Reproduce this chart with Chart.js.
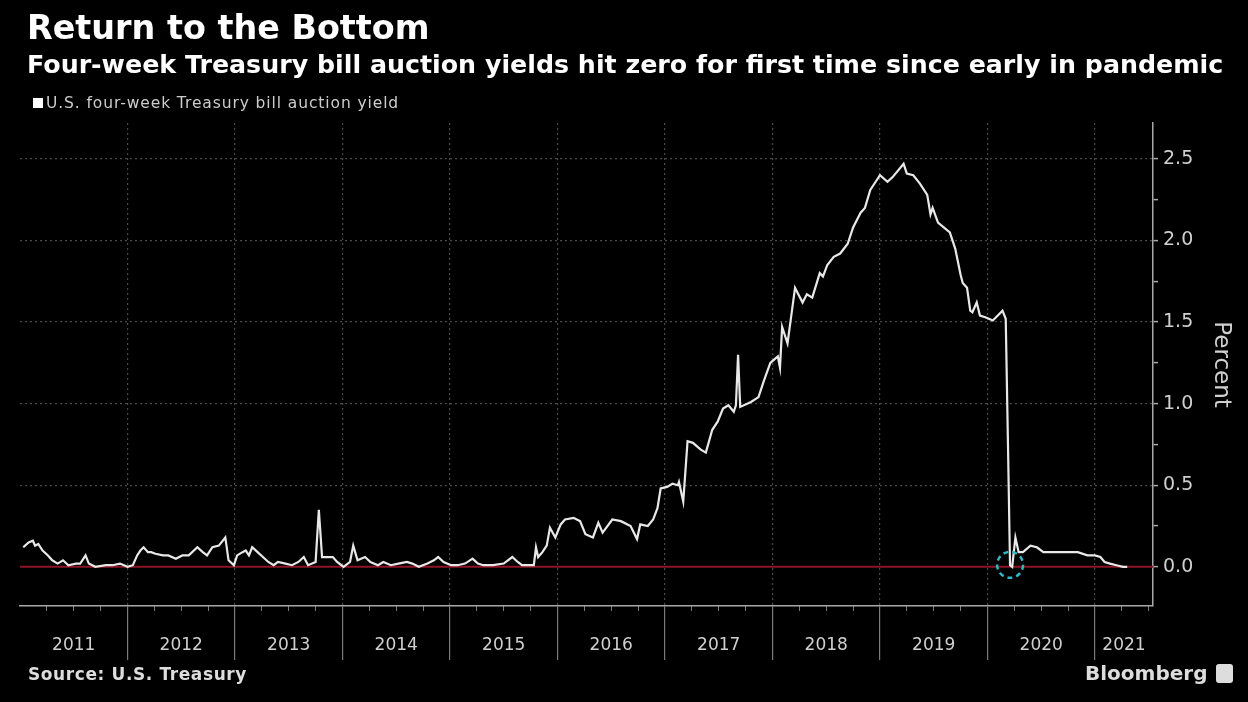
<!DOCTYPE html>
<html><head><meta charset="utf-8">
<script src="https://cdn.jsdelivr.net/npm/chart.js@4.4.1/dist/chart.umd.min.js"></script>
<style>
html,body{margin:0;padding:0;background:#000;}
#wrap{position:relative;width:1248px;height:702px;background:#000;overflow:hidden;font-family:"DejaVu Sans",Verdana,sans-serif;}
canvas{position:absolute;left:0;top:0;}
.t{position:absolute;white-space:nowrap;color:#fff;line-height:1;}
#title{left:27px;top:11px;font-size:33.4px;font-weight:bold;}
#sub{left:27px;top:52px;font-size:25.3px;font-weight:bold;}
#legend{left:33px;top:96px;font-size:15.5px;color:#ccc;letter-spacing:0.9px;}
#legend .sw{display:inline-block;width:10px;height:10px;background:#fff;margin-right:3px;vertical-align:0px;}
#source{left:28px;top:666px;font-size:17px;font-weight:bold;color:#ddd;letter-spacing:0.6px;}
#brand{left:1085px;top:663px;font-size:20px;font-weight:bold;color:#ddd;}
#logo{position:absolute;left:1216px;top:664px;width:17px;height:19px;background:#ddd;border-radius:3px;}
</style></head>
<body>
<div id="wrap">
<canvas id="c" width="1248" height="702"></canvas>
<div class="t" id="title">Return to the Bottom</div>
<div class="t" id="sub">Four-week Treasury bill auction yields hit zero for first time since early in pandemic</div>
<div class="t" id="legend"><span class="sw"></span>U.S. four-week Treasury bill auction yield</div>
<div class="t" id="source">Source: U.S. Treasury</div>
<div class="t" id="brand">Bloomberg</div>
<div id="logo"></div>
</div>
<script>
// ---- data (decimal year of auction, yield in percent) ----
const dates = [
2011.03,2011.08,2011.12,2011.14,2011.17,2011.21,2011.26,2011.30,2011.35,2011.40,2011.45,2011.52,2011.56,2011.61,2011.64,2011.70,2011.80,2011.86,2011.93,2012.00,
2012.05,2012.09,2012.12,2012.15,2012.19,2012.22,2012.26,2012.33,2012.38,2012.45,2012.51,2012.57,2012.65,2012.70,2012.74,2012.79,2012.85,2012.91,2012.94,2012.99,
2013.02,2013.07,2013.10,2013.13,2013.16,2013.21,2013.26,2013.31,2013.36,2013.40,2013.47,2013.53,2013.59,2013.64,2013.68,2013.75,2013.78,2013.81,2013.86,2013.91,2013.95,
2014.01,2014.07,2014.10,2014.14,2014.21,2014.26,2014.33,2014.38,2014.45,2014.52,2014.60,2014.65,2014.71,2014.79,2014.85,2014.89,2014.94,
2015.01,2015.07,2015.14,2015.21,2015.26,2015.31,2015.40,2015.50,2015.58,2015.63,2015.67,2015.73,2015.78,2015.80,2015.82,2015.86,2015.90,2015.93,2015.98,
2016.03,2016.07,2016.15,2016.21,2016.26,2016.33,2016.38,2016.42,2016.51,2016.59,2016.68,2016.74,2016.77,2016.84,2016.89,2016.93,2016.96,
2017.02,2017.07,2017.12,2017.13,2017.17,2017.21,2017.26,2017.33,2017.38,2017.44,2017.49,2017.54,2017.59,2017.64,2017.66,2017.68,2017.70,2017.80,2017.87,2017.92,2017.98,
2018.05,2018.07,2018.09,2018.14,2018.21,2018.28,2018.32,2018.37,2018.44,2018.47,2018.51,2018.57,2018.63,2018.70,2018.75,2018.82,2018.86,2018.91,2018.96,
2019.00,2019.07,2019.12,2019.22,2019.25,2019.31,2019.37,2019.44,2019.47,2019.49,2019.54,2019.63,2019.65,2019.70,2019.75,2019.77,2019.81,2019.84,2019.86,2019.90,2019.93,2019.98,
2020.05,2020.14,2020.17,2020.19,2020.21,2020.23,2020.26,2020.29,2020.33,2020.40,2020.46,2020.52,2020.60,2020.68,2020.75,2020.84,2020.93,
2021.00,2021.05,2021.09,2021.14,2021.20,2021.26,2021.30
];
const yields = [
0.12,0.15,0.16,0.13,0.14,0.10,0.07,0.04,0.02,0.04,0.01,0.02,0.02,0.07,0.02,0.00,0.01,0.01,0.02,0.00,
0.01,0.07,0.10,0.12,0.09,0.09,0.08,0.07,0.07,0.05,0.07,0.07,0.12,0.09,0.07,0.12,0.13,0.18,0.04,0.01,
0.07,0.09,0.10,0.07,0.12,0.09,0.06,0.03,0.01,0.03,0.02,0.01,0.03,0.06,0.01,0.03,0.35,0.06,0.06,0.06,0.03,
0.00,0.03,0.13,0.04,0.06,0.03,0.01,0.03,0.01,0.02,0.03,0.02,0.00,0.02,0.04,0.06,0.03,
0.01,0.01,0.02,0.05,0.02,0.01,0.01,0.02,0.06,0.03,0.01,0.01,0.01,0.12,0.06,0.09,0.13,0.24,0.18,
0.26,0.29,0.30,0.28,0.20,0.18,0.27,0.21,0.29,0.28,0.25,0.17,0.26,0.25,0.29,0.36,0.48,
0.49,0.51,0.50,0.52,0.40,0.77,0.76,0.72,0.70,0.84,0.89,0.97,0.99,0.95,0.99,1.30,0.98,1.01,1.04,1.14,1.25,
1.29,1.22,1.47,1.37,1.71,1.62,1.67,1.65,1.80,1.78,1.85,1.90,1.92,1.98,2.08,2.17,2.20,2.31,2.36,
2.40,2.36,2.39,2.47,2.41,2.40,2.35,2.28,2.16,2.20,2.11,2.06,2.05,1.95,1.79,1.74,1.71,1.57,1.56,1.62,1.54,1.53,
1.51,1.57,1.52,0.78,0.01,0.00,0.18,0.09,0.09,0.13,0.12,0.09,0.09,0.09,0.09,0.09,0.07,
0.07,0.06,0.03,0.02,0.01,0.00,0.00
];
const years = [2011,2012,2013,2014,2015,2016,2017,2018,2019,2020,2021];
const yTickValues = [0,0.25,0.5,0.75,1,1.25,1.5,1.75,2,2.25,2.5];
const xMin = 2011.0, xMax = 2021.54;
const yMin = -0.24, yMax = 2.72;
const zeroHit = {x: 2020.22, y: 0};   // highlighted point (dashed circle)

// ---- derived ----
const series = dates.map((d, i) => ({x: d, y: yields[i]}));
const yearCenter = y => (Math.max(y, xMin) + Math.min(y + 1, xMax)) / 2;
const GRID = '#4a4a4a', TICK = '#7a7a7a', AXIS = '#a8a8a8', TXT = '#cfcfcf';
const FONT = '"DejaVu Sans", Verdana, sans-serif';

const circlePlugin = {
  id: 'zeroCircle',
  afterDatasetsDraw(chart) {
    const {ctx, scales: {x, y}} = chart;
    const px = x.getPixelForValue(zeroHit.x), py = y.getPixelForValue(zeroHit.y);
    ctx.save();
    ctx.strokeStyle = '#37b4c4';
    ctx.lineWidth = 2.5;
    ctx.setLineDash([5, 4]);
    ctx.beginPath();
    ctx.arc(px - 1, py - 2, 13, 0, Math.PI * 2);
    ctx.stroke();
    ctx.restore();
  }
};

new Chart(document.getElementById('c'), {
  type: 'line',
  data: {
    datasets: [
      {data: series, borderColor: '#e8e8e8', borderWidth: 2.2, pointRadius: 0, tension: 0, order: 0},
      {data: [{x: xMin, y: 0}, {x: xMax, y: 0}], borderColor: '#8c1427', borderWidth: 2, pointRadius: 0, order: 1}
    ]
  },
  options: {
    responsive: false,
    devicePixelRatio: 1,
    animation: false,
    events: [],
    layout: {padding: {left: 20, top: 123, right: 0, bottom: 0}},
    plugins: {legend: {display: false}, tooltip: {enabled: false}},
    scales: {
      xq: {
        type: 'linear', position: 'bottom', weight: -1, min: xMin, max: xMax,
        afterBuildTicks: s => {
          const t = [];
          years.forEach(y => [0.25, 0.5, 0.75].forEach(q => { if (y + q < xMax) t.push({value: y + q}); }));
          s.ticks = t;
        },
        afterFit: s => { s.height = 0; },
        ticks: {display: false, autoSkip: false},
        grid: {drawOnChartArea: false, tickLength: 5, tickColor: TICK, tickWidth: 1},
        border: {display: false}
      },
      x: {
        type: 'linear', position: 'bottom', min: xMin, max: xMax,
        afterBuildTicks: s => {
          const t = [];
          years.forEach(y => {
            if (y > xMin) t.push({value: y});
            t.push({value: yearCenter(y)});
          });
          t.sort((a, b) => a.value - b.value);
          s.ticks = t;
        },
        afterFit: s => { s.height = 96; },
        ticks: {
          autoSkip: false, maxRotation: 0, padding: -25, color: TXT,
          font: {family: FONT, size: 17},
          callback: v => Number.isInteger(v) ? '' : String(Math.floor(v))
        },
        grid: {
          tickLength: 54,
          color: c => Number.isInteger(c.tick.value) ? GRID : 'rgba(0,0,0,0)',
          tickColor: c => Number.isInteger(c.tick.value) ? TICK : 'rgba(0,0,0,0)',
          lineWidth: 1.2, tickWidth: 1.2, tickBorderDash: []
        },
        border: {display: true, color: AXIS, width: 1.5, dash: [2, 3]}
      },
      y: {
        type: 'linear', position: 'right', min: yMin, max: yMax,
        afterBuildTicks: s => { s.ticks = yTickValues.map(v => ({value: v})); },
        afterFit: s => { s.width = 95; },
        ticks: {
          autoSkip: false, padding: 5, color: TXT, font: {family: FONT, size: 19},
          callback: v => (Math.abs(v * 2 - Math.round(v * 2)) < 1e-6) ? v.toFixed(1) : ''
        },
        grid: {
          tickLength: 5,
          color: c => {
            const v = c.tick.value;
            return (v !== 0 && Math.abs(v * 2 - Math.round(v * 2)) < 1e-6) ? GRID : 'rgba(0,0,0,0)';
          },
          tickColor: AXIS, lineWidth: 1.2, tickWidth: 1.5, tickBorderDash: []
        },
        border: {display: true, color: AXIS, width: 1.5, dash: [2, 3]},
        title: {display: true, text: 'Percent', color: TXT, font: {family: FONT, size: 23}, padding: {top: 13, bottom: 0}}
      }
    }
  },
  plugins: [circlePlugin]
});
</script>
</body></html>
